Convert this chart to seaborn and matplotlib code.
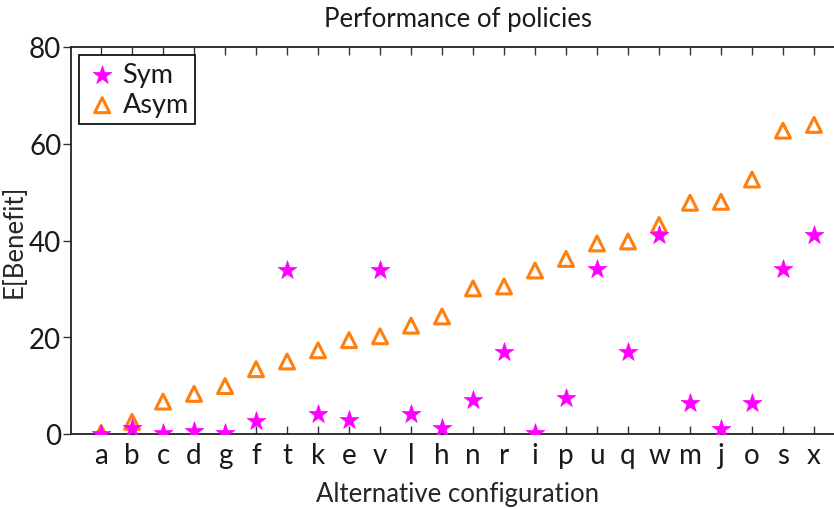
import matplotlib
matplotlib.use("Agg")
import matplotlib.pyplot as plt
import seaborn as sns

configs = ["a", "b", "c", "d", "g", "f", "t", "k", "e", "v", "l", "h",
           "n", "r", "i", "p", "u", "q", "w", "m", "j", "o", "s", "x"]
sym = [0.1, 1.2, 0.2, 0.7, 0.2, 2.7, 34.0, 4.1, 2.8, 34.0, 4.1, 1.3,
       7.1, 16.9, 0.2, 7.4, 34.2, 16.9, 41.1, 6.5, 1.1, 6.5, 34.1, 41.1]
asym = [0.2, 2.5, 6.7, 8.3, 9.9, 13.4, 15.0, 17.3, 19.4, 20.2, 22.4, 24.3,
        30.1, 30.5, 33.8, 36.2, 39.4, 39.8, 43.2, 47.8, 48.0, 52.6, 62.7, 63.9]
yticks = [0, 20, 40, 60, 80]

sns.set_style("white")
plt.rcParams["font.family"] = ["Lato", "DejaVu Sans"]
plt.rcParams["text.color"] = "#1a1a1a"

fig = plt.figure(figsize=(8.34, 5.10), dpi=100)
ax = fig.add_axes([71 / 834, 1 - 435 / 510, 774 / 834, 387 / 510])

sns.scatterplot(x=configs, y=sym, ax=ax, marker="*", s=200,
                color="#ff00ff", edgecolor="#ff00ff", linewidth=0.5,
                label="Sym", zorder=3)
sns.scatterplot(x=configs, y=asym, ax=ax, marker="^", s=115,
                facecolors="none", edgecolor="#ff7f0e", linewidth=2.2,
                label="Asym", zorder=2)

ax.set_xlim(-0.97, 24.0)
ax.set_ylim(0, 80)
ax.set_yticks(yticks)

ax.set_title("Performance of policies", fontsize=18.5, pad=15)
ax.set_xlabel("Alternative configuration", fontsize=18.5, labelpad=9)
ax.set_ylabel("E[Benefit]", fontsize=18.5, labelpad=2)

for side in ["left", "bottom", "top"]:
    ax.spines[side].set_visible(True)
    ax.spines[side].set_color("#222222")
    ax.spines[side].set_linewidth(1.3)
ax.spines["right"].set_visible(False)

ax.tick_params(axis="x", direction="in", top=True, bottom=True, length=6,
               width=1, color="#333333", labelsize=20, pad=6,
               labelcolor="#1a1a1a")
ax.tick_params(axis="y", direction="out", left=True, right=False, length=6,
               width=1, color="#333333", labelsize=20, pad=1,
               labelcolor="#1a1a1a")

leg = ax.legend(loc="upper left", fontsize=19.5, frameon=True, fancybox=False,
                edgecolor="black", framealpha=1, borderaxespad=0.3,
                handletextpad=0.15, borderpad=0.25, labelspacing=0.2,
                handlelength=1.2)
leg.get_frame().set_linewidth(1.2)

fig.savefig("out.png", dpi=100)
